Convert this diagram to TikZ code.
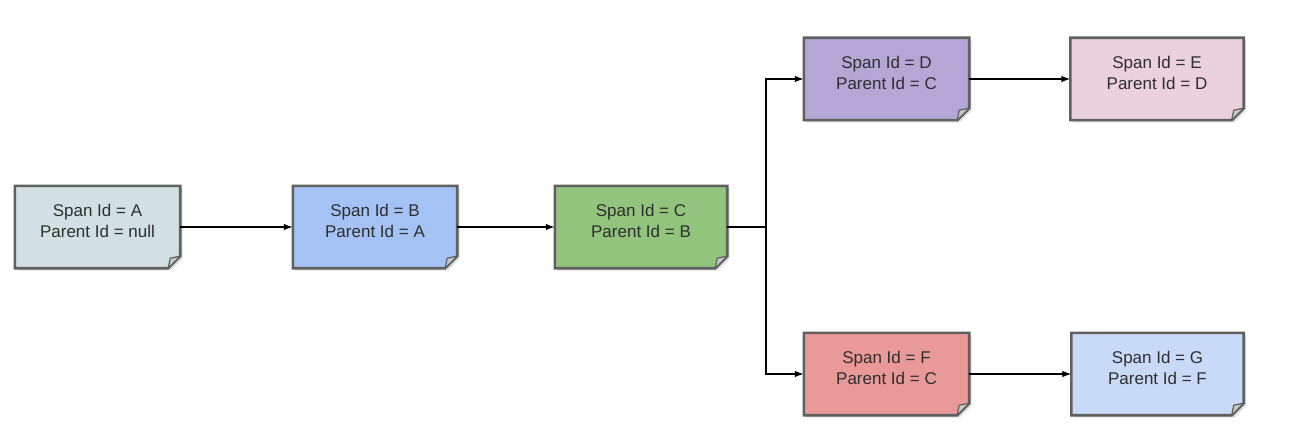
\documentclass[tikz,border=0pt]{standalone}
\usepackage{fontspec}
\setmainfont{Liberation Sans}
\usetikzlibrary{arrows.meta}
\definecolor{edgegray}{HTML}{606060}
\definecolor{foldfill}{HTML}{C8C8C8}
\definecolor{txtc}{HTML}{2E2E2E}
\definecolor{cA}{HTML}{D0E0E3}
\definecolor{cB}{HTML}{A4C2F4}
\definecolor{cC}{HTML}{93C47D}
\definecolor{cD}{HTML}{B4A7D6}
\definecolor{cE}{HTML}{EAD1DC}
\definecolor{cF}{HTML}{EA9999}
\definecolor{cG}{HTML}{C9DAF8}
\tikzset{
  boxshape/.style={rectangle, inner sep=0pt, minimum height=82pt},
  txt/.style={align=center, text=txtc, font=\fontsize{17}{20.5}\selectfont, inner sep=0pt},
  conn/.style={black, line width=1.3pt, -{Latex[length=9pt,width=6.5pt]}},
  outline/.style={draw=edgegray, line width=2.6pt, line join=miter},
  flap/.style={fill=foldfill, draw=edgegray, line width=1.2pt, line join=round},
}
\newcommand\notebox[6]{%
  \node[boxshape, minimum width=#4] (#1) at (#2,#3) {};
  \fill[black, opacity=0.12] ([xshift=2.5pt,yshift=-2.5pt]#1.north west) -- ([xshift=2.5pt,yshift=-2.5pt]#1.north east)
     -- ([xshift=2.5pt,yshift=9.5pt]#1.south east) -- ([xshift=-9.5pt,yshift=-2.5pt]#1.south east)
     -- ([xshift=2.5pt,yshift=-2.5pt]#1.south west) -- cycle;
  \path[fill=#5, outline] (#1.north west) -- (#1.north east) -- ([yshift=12pt]#1.south east)
     -- ([xshift=-12pt]#1.south east) -- (#1.south west) -- cycle;
  \path[flap] ([yshift=12pt]#1.south east) -- ([xshift=-12pt]#1.south east)
     -- ([xshift=-10pt,yshift=10pt]#1.south east) -- cycle;
  \node[txt] (#1t) at ([yshift=6pt]#1.center) {#6};
}
\begin{document}
\begin{tikzpicture}[x=1pt,y=-1pt]
\useasboundingbox[fill=white] (0,0) rectangle (1308,433);
\notebox{a}{97.5}{227}{165pt}{cA}{Span Id = A\\Parent Id = null}
\notebox{b}{375}{227}{164pt}{cB}{Span Id = B\\Parent Id = A}
\notebox{c}{641}{227}{172pt}{cC}{Span Id = C\\Parent Id = B}
\notebox{d}{886.5}{79}{165pt}{cD}{Span Id = D\\Parent Id = C}
\notebox{e}{1157}{79}{173pt}{cE}{Span Id = E\\Parent Id = D}
\notebox{f}{886.5}{374}{165pt}{cF}{Span Id = F\\Parent Id = C}
\notebox{g}{1157.5}{374}{172pt}{cG}{Span Id = G\\Parent Id = F}
\coordinate (br) at (766,227);
\draw[conn] (a.east) -- (b.west);
\draw[conn] (b.east) -- (c.west);
\draw[conn] (c.east) -- (br) |- (d.west);
\draw[conn] (br) |- (f.west);
\draw[conn] (d.east) -- (e.west);
\draw[conn] (f.east) -- (g.west);
\end{tikzpicture}
\end{document}
